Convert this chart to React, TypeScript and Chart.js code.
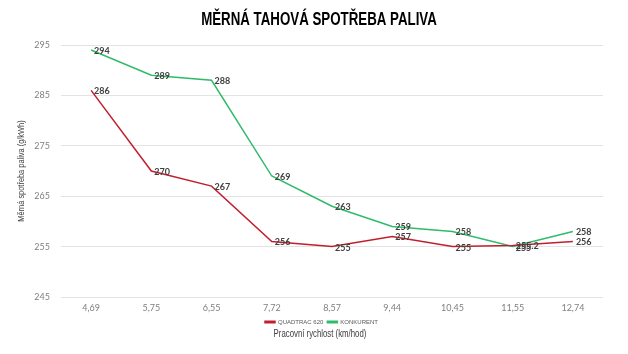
import React, { useEffect, useRef } from "react";
import { Chart, registerables } from "chart.js";

Chart.register(...registerables);

const categories = ["4,69", "5,75", "6,55", "7,72", "8,57", "9,44", "10,45", "11,55", "12,74"];
const quadtrac = [286, 270, 267, 256, 255, 257, 255, 255.2, 256];
const konkurent = [294, 289, 288, 269, 263, 259, 258, 255, 258];
const yTicks = [245, 255, 265, 275, 285, 295];
const titleText = "MĚRNÁ TAHOVÁ SPOTŘEBA PALIVA";
const xTitleText = "Pracovní rychlost (km/hod)";
const yTitleText = "Měrná spotřeba paliva (g/kWh)";

const labelPlugin = {
  id: "pointLabels",
  afterDatasetsDraw(chart: any) {
    const ctx = chart.ctx;
    ctx.save();
    ctx.font = "bold 9px Lato, 'Open Sans', sans-serif";
    ctx.fillStyle = "#404040";
    ctx.textAlign = "left";
    ctx.textBaseline = "middle";
    chart.data.datasets.forEach((ds: any, i: number) => {
      const meta = chart.getDatasetMeta(i);
      meta.data.forEach((pt: any, j: number) => {
        const v = ds.data[j];
        ctx.fillText(String(v), pt.x + 3, pt.y + 1);
      });
    });
    ctx.restore();
  },
};

const legendShift = {
  id: "legendShift",
  afterLayout(chart: any) {
    const lg = chart.legend;
    if (lg) {
      lg.left += 20;
      lg.right += 20;
    }
  },
};

const textPlugin = {
  id: "narrowTexts",
  afterDraw(chart: any) {
    const ctx = chart.ctx;
    ctx.save();
    ctx.textAlign = "center";
    ctx.textBaseline = "middle";
    // main title (condensed)
    ctx.save();
    ctx.translate(319, 20);
    ctx.scale(0.7, 1);
    ctx.font = "bold 19px 'Liberation Sans', Arial, sans-serif";
    ctx.fillStyle = "#000";
    ctx.fillText(titleText, 0, 0);
    ctx.restore();
    // x axis title
    ctx.save();
    ctx.translate(320, 334);
    ctx.scale(0.78, 1);
    ctx.font = "10px 'Liberation Sans', Arial, sans-serif";
    ctx.fillStyle = "#404040";
    ctx.fillText(xTitleText, 0, 0);
    ctx.restore();
    // y axis title
    ctx.save();
    ctx.translate(21, 171);
    ctx.rotate(-Math.PI / 2);
    ctx.scale(0.78, 1);
    ctx.font = "9.5px 'Liberation Sans', Arial, sans-serif";
    ctx.fillStyle = "#404040";
    ctx.fillText(yTitleText, 0, 0);
    ctx.restore();
    ctx.restore();
  },
};

export default function App() {
  const ref = useRef<HTMLCanvasElement>(null);
  useEffect(() => {
    if (!ref.current) return;
    const chart = new Chart(ref.current, {
      type: "line",
      data: {
        labels: categories,
        datasets: [
          {
            label: "QUADTRAC 620",
            data: quadtrac,
            borderColor: "#C0202E",
            backgroundColor: "#C0202E",
            borderWidth: 1.5,
            pointRadius: 0,
            tension: 0,
          },
          {
            label: "KONKURENT",
            data: konkurent,
            borderColor: "#2EBB6A",
            backgroundColor: "#2EBB6A",
            borderWidth: 1.5,
            pointRadius: 0,
            tension: 0,
          },
        ],
      },
      options: {
        animation: false,
        responsive: false,
        maintainAspectRatio: false,
        layout: { padding: { left: 0, right: 25, top: 45, bottom: 19 } },
        plugins: {
          title: { display: false },
          legend: {
            position: "bottom",
            labels: {
              boxWidth: 10,
              boxHeight: 1.5,
              color: "#595959",
              padding: 4,
              font: { family: "'Liberation Sans', sans-serif", size: 6 },
            },
          },
          tooltip: { enabled: false },
        },
        scales: {
          x: {
            offset: true,
            grid: { display: false, drawTicks: false },
            border: { display: false },
            ticks: {
              color: "#7F7F7F",
              font: { family: "Lato, 'Open Sans', sans-serif", size: 9 },
              padding: 6,
              maxRotation: 0,
            },
            afterFit(axis: any) {
              axis.height = 18;
            },
          },
          y: {
            min: 245,
            max: 295,
            afterBuildTicks(axis: any) {
              axis.ticks = yTicks.map((v) => ({ value: v }));
            },
            afterFit(axis: any) {
              axis.width = 61;
            },
            grid: { color: "#E3E3E3", drawTicks: false },
            border: { display: false },
            ticks: {
              color: "#7F7F7F",
              font: { family: "Lato, 'Open Sans', sans-serif", size: 9 },
              padding: 11,
            },
          },
        },
      },
      plugins: [labelPlugin, textPlugin, legendShift],
    });
    return () => chart.destroy();
  }, []);
  return (
    <div style={{ position: "fixed", left: 0, top: 0, width: 628, height: 354, background: "#fff" }}>
      <canvas ref={ref} width={628} height={354} style={{ width: 628, height: 354 }} />
    </div>
  );
}
